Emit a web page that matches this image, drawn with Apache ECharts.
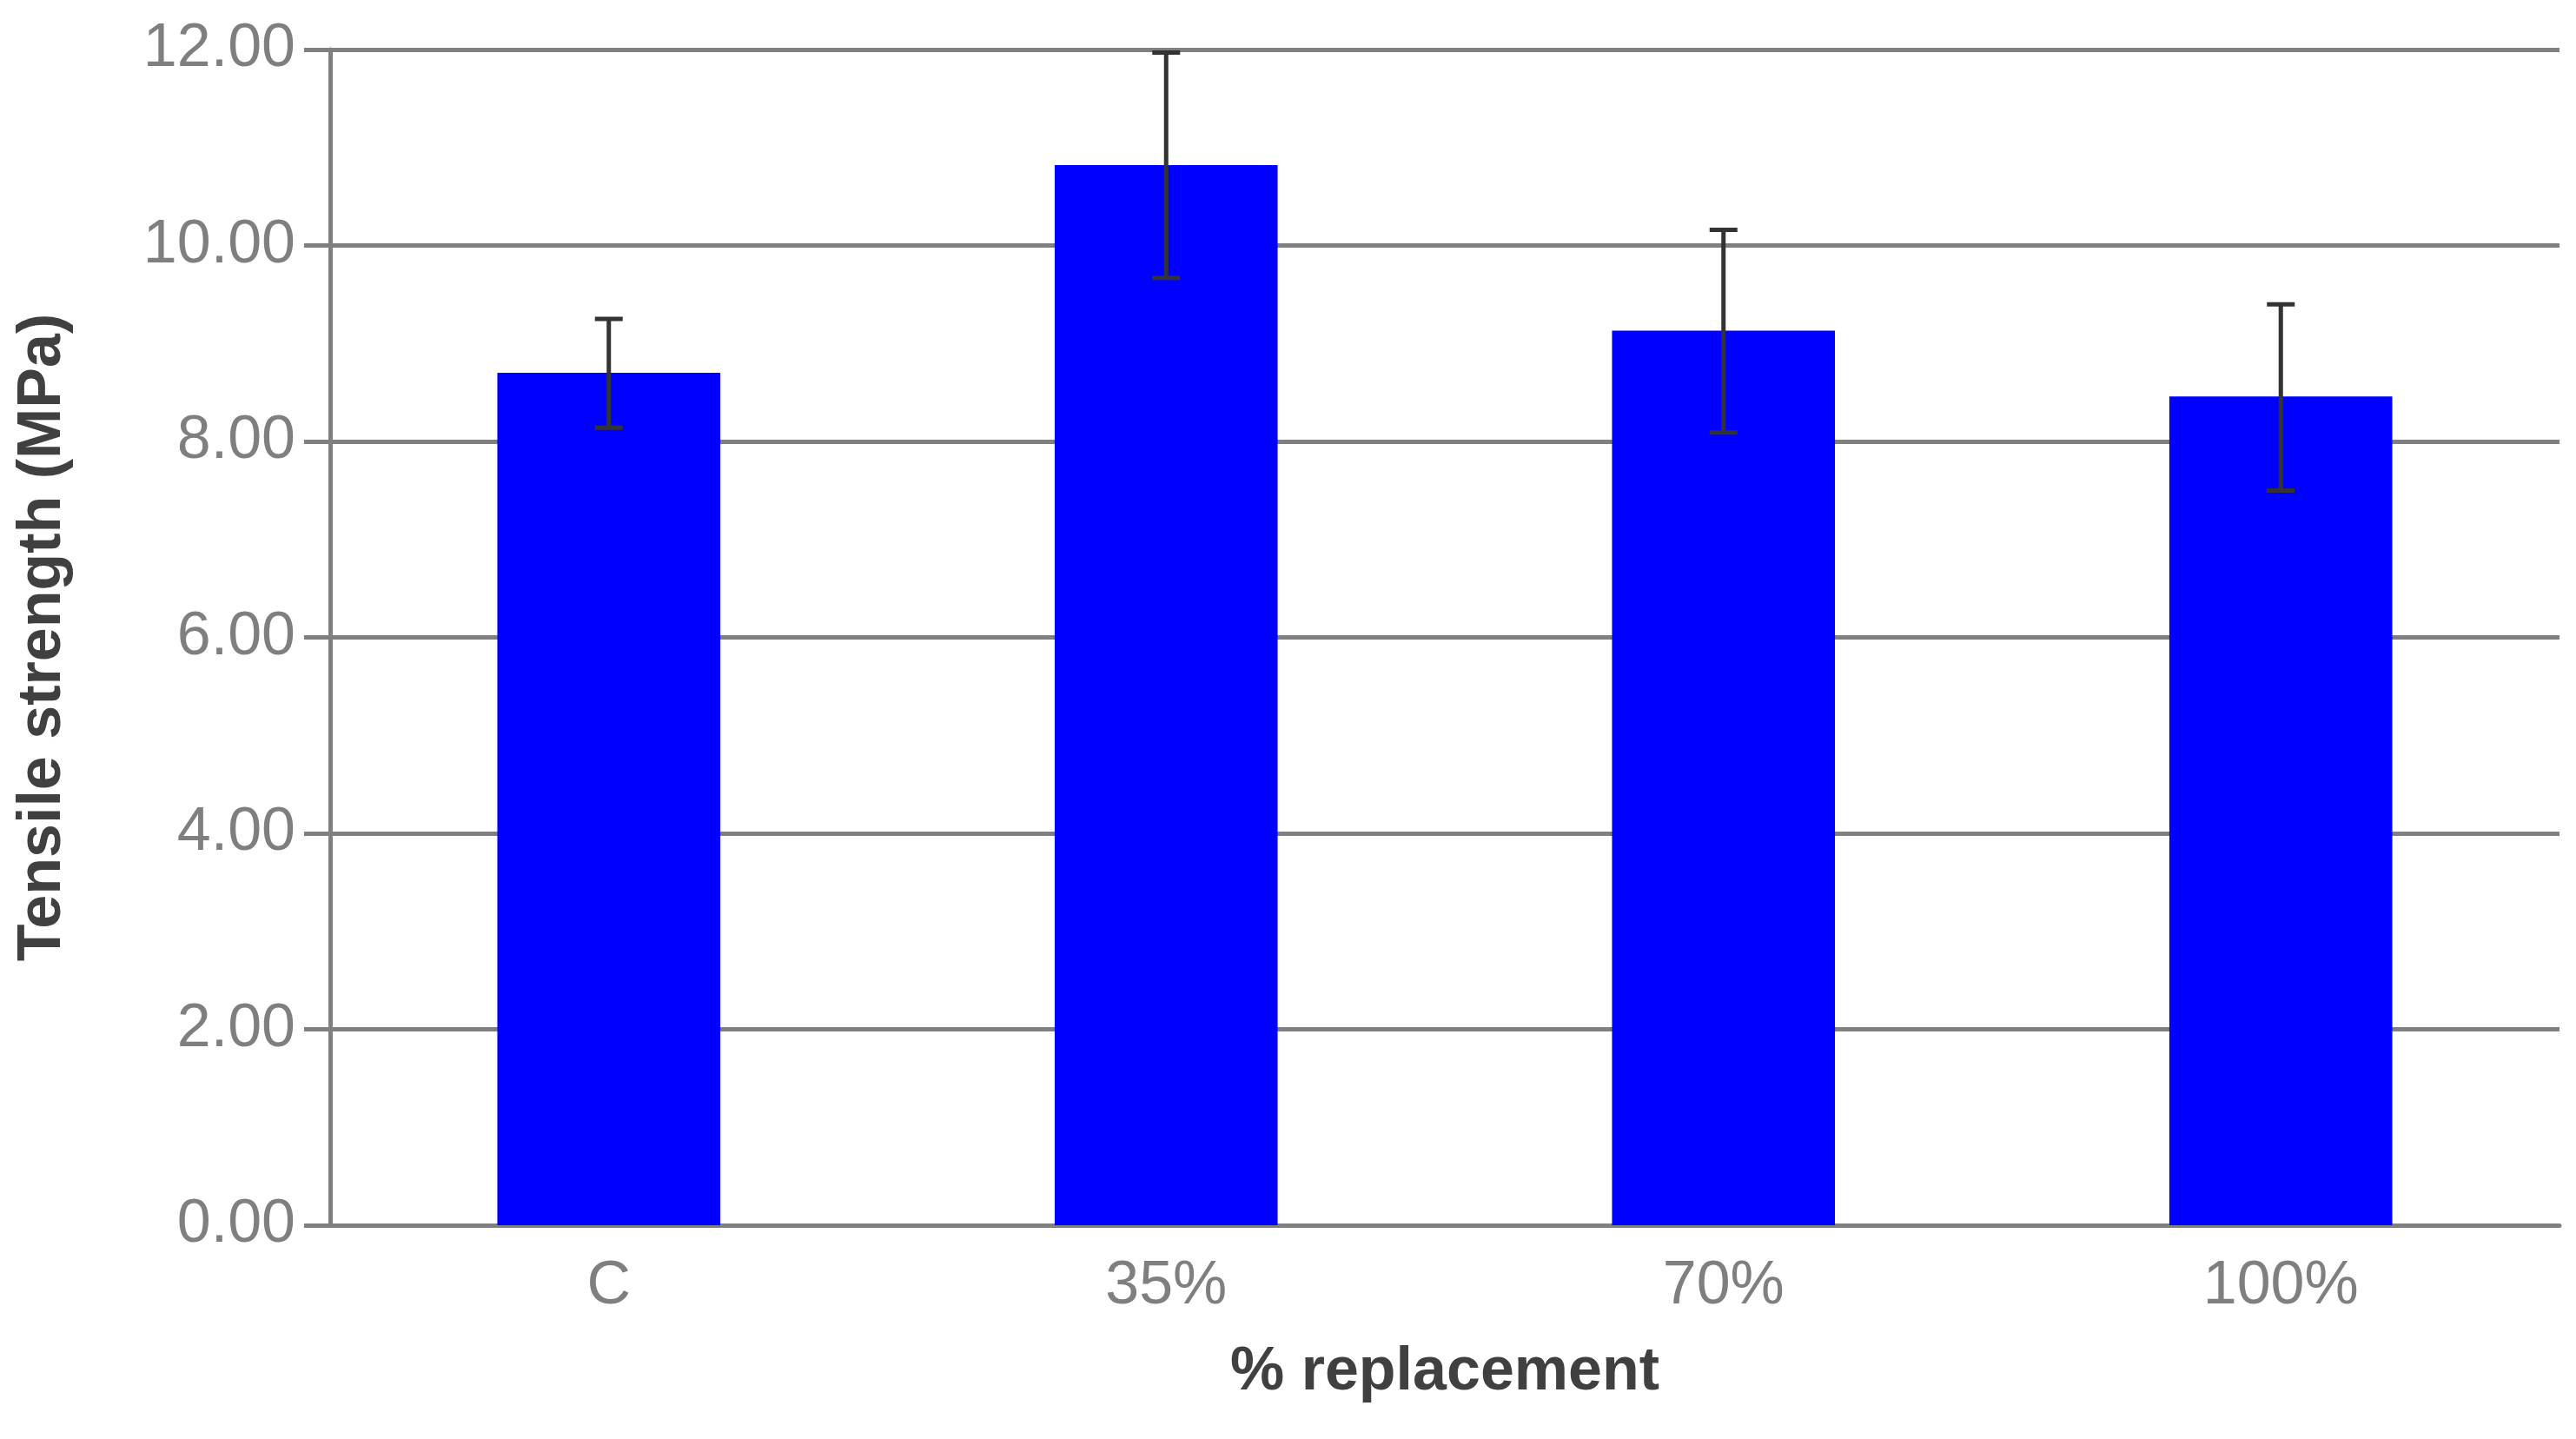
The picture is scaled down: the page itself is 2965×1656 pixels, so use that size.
<!DOCTYPE html>
<html><head><meta charset="utf-8">
<script src="https://cdn.jsdelivr.net/npm/echarts@6/dist/echarts.min.js"></script>
<style>html,body{margin:0;background:#fff}#c{width:2965px;height:1656px}</style>
</head><body><div id="c"></div>
<script>
const categories = ['C', '35%', '70%', '100%'];
const values = [8.70, 10.82, 9.13, 8.46];
const errLow = [8.14, 9.67, 8.09, 7.50];
const errHigh = [9.25, 11.97, 10.16, 9.40];
const yTicks = [0, 2, 4, 6, 8, 10, 12];

const font = '"Liberation Sans Narrow","Arial Narrow","Liberation Sans",sans-serif';
const chart = echarts.init(document.getElementById('c'));
chart.setOption({
  animation: false,
  grid: {left: 380, right: 19, top: 57, bottom: 246},
  xAxis: {
    type: 'category', data: categories,
    name: '% replacement', nameLocation: 'middle', nameGap: 135,
    nameTextStyle: {fontFamily: font, fontWeight: 'bold', fontSize: 70, color: '#404040'},
    axisLine: {lineStyle: {color: '#808080', width: 5}},
    axisTick: {length: 30, lineStyle: {color: '#808080', width: 5}},
    axisLabel: {fontFamily: font, fontSize: 70, color: '#7f7f7f', margin: 36}
  },
  yAxis: {
    type: 'value', min: 0, max: 12, interval: 2,
    name: 'Tensile strength (MPa)', nameLocation: 'middle', nameGap: 295,
    nameTextStyle: {fontFamily: font, fontWeight: 'bold', fontSize: 70, color: '#404040'},
    axisLine: {show: true, lineStyle: {color: '#808080', width: 5}},
    axisTick: {show: true, length: 30, lineStyle: {color: '#808080', width: 5}},
    splitLine: {lineStyle: {color: '#808080', width: 5}},
    axisLabel: {fontFamily: font, fontSize: 70, color: '#7f7f7f', margin: 40,
      formatter: v => yTicks.includes(v) ? v.toFixed(2) : ''}
  },
  series: [{
    type: 'bar', data: values, barWidth: '40%',
    itemStyle: {color: '#0000ff'}
  }, {
    type: 'custom',
    data: categories.map((c, i) => [i, errLow[i], errHigh[i]]),
    renderItem: (params, api) => {
      const lo = api.coord([api.value(0), api.value(1)]);
      const hi = api.coord([api.value(0), api.value(2)]);
      const w = 16;
      const st = {stroke: '#333333', lineWidth: 5};
      return {type: 'group', children: [
        {type: 'line', shape: {x1: lo[0], y1: lo[1], x2: hi[0], y2: hi[1]}, style: st},
        {type: 'line', shape: {x1: lo[0]-w, y1: lo[1], x2: lo[0]+w, y2: lo[1]}, style: st},
        {type: 'line', shape: {x1: hi[0]-w, y1: hi[1], x2: hi[0]+w, y2: hi[1]}, style: st}
      ]};
    },
    z: 10
  }]
});
</script></body></html>
